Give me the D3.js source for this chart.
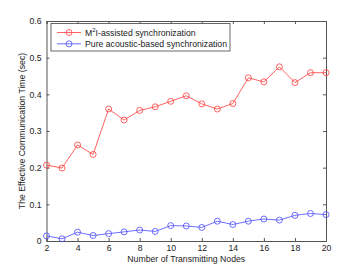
<!DOCTYPE html>
<html>
<head>
<meta charset="UTF-8" />
<script src="https://d3js.org/d3.v7.min.js"></script>
<style>
  body { margin: 0; background: #fff; }
  text { font-family: "Liberation Sans", Arial, sans-serif; font-size: 8.7px; fill: #222; }
</style>
</head>
<body>
<div id="chart"></div>
<script>
  // data
  var nodes = d3.range(2, 21);
  var m2iTime = [0.207, 0.199, 0.262, 0.236, 0.360, 0.330, 0.356, 0.366, 0.381, 0.396,
                 0.374, 0.360, 0.375, 0.445, 0.434, 0.475, 0.432, 0.459, 0.459];
  var acousticTime = [0.014, 0.006, 0.024, 0.015, 0.020, 0.025, 0.030, 0.026, 0.042, 0.041,
                      0.037, 0.054, 0.045, 0.054, 0.060, 0.057, 0.070, 0.075, 0.072];
  var xTicks = [2, 4, 6, 8, 10, 12, 14, 16, 18, 20];
  var yTicks = [0, 0.1, 0.2, 0.3, 0.4, 0.5, 0.6];
  var seriesNames = ["M2I-assisted synchronization", "Pure acoustic-based synchronization"];
  var seriesColors = ["#ff3b3b", "#4a4aff"];

  var W = 360, H = 271;
  var pLeft = 46.5, pRight = 326, pTop = 21, pBottom = 241;

  var svg = d3.select("#chart").append("svg")
    .attr("width", W).attr("height", H);

  var x = d3.scaleLinear().domain([2, 20]).range([pLeft, pRight]);
  var y = d3.scaleLinear().domain([0, 0.6]).range([pBottom, pTop]);

  var fmtY = d => d === 0 ? "0" : d3.format(".1f")(d);

  // axes (ticks pointing inward, like MATLAB box)
  svg.append("g").attr("transform", "translate(0," + pBottom + ")")
    .call(d3.axisBottom(x).tickValues(xTicks).tickSize(-3).tickPadding(3.5));
  svg.append("g").attr("transform", "translate(0," + pTop + ")")
    .call(d3.axisTop(x).tickValues(xTicks).tickSize(-3).tickFormat(""));
  svg.append("g").attr("transform", "translate(" + pLeft + ",0)")
    .call(d3.axisLeft(y).tickValues(yTicks).tickSize(-3).tickPadding(5).tickFormat(fmtY));
  svg.append("g").attr("transform", "translate(" + pRight + ",0)")
    .call(d3.axisRight(y).tickValues(yTicks).tickSize(-3).tickFormat(""));

  svg.selectAll(".domain").attr("stroke", "#555");
  svg.selectAll(".tick line").attr("stroke", "#555");
  svg.selectAll(".tick text").attr("font-size", 8.7).attr("fill", "#222")
    .attr("font-family", "Liberation Sans, Arial, sans-serif");

  // series
  var line = d3.line().x((d, i) => x(nodes[i])).y(d => y(d));
  [m2iTime, acousticTime].forEach(function (vals, k) {
    svg.append("path").attr("d", line(vals))
      .attr("fill", "none").attr("stroke", seriesColors[k]).attr("stroke-width", 0.8);
    svg.selectAll(".m" + k).data(vals).enter().append("circle")
      .attr("cx", (d, i) => x(nodes[i])).attr("cy", d => y(d)).attr("r", 3)
      .attr("fill", "none").attr("stroke", seriesColors[k]).attr("stroke-width", 0.8);
  });

  // legend
  var lg = svg.append("g");
  lg.append("rect").attr("x", 51).attr("y", 23.5).attr("width", 179).attr("height", 27.5)
    .attr("fill", "#fff").attr("stroke", "#444").attr("stroke-width", 0.8);
  seriesNames.forEach(function (name, k) {
    var ly = 32.5 + k * 11.3;
    lg.append("line").attr("x1", 57).attr("x2", 81).attr("y1", ly).attr("y2", ly)
      .attr("stroke", seriesColors[k]).attr("stroke-width", 0.8);
    lg.append("circle").attr("cx", 69).attr("cy", ly).attr("r", 3)
      .attr("fill", "none").attr("stroke", seriesColors[k]).attr("stroke-width", 0.8);
    var t = lg.append("text").attr("x", 85).attr("y", ly + 3);
    if (k === 0) {
      t.append("tspan").text("M");
      t.append("tspan").attr("dy", -3.5).attr("font-size", 6).text("2");
      t.append("tspan").attr("dy", 3.5).text("I-assisted synchronization");
    } else {
      t.text(name);
    }
  });

  // axis labels
  svg.append("text").attr("x", (pLeft + pRight) / 2).attr("y", 262)
    .attr("text-anchor", "middle").text("Number of Transmitting Nodes");
  svg.append("text")
    .attr("transform", "translate(25," + (pTop + pBottom) / 2 + ") rotate(-90)")
    .attr("text-anchor", "middle").text("The Effective Communication Time (sec)");
</script>
</body>
</html>
